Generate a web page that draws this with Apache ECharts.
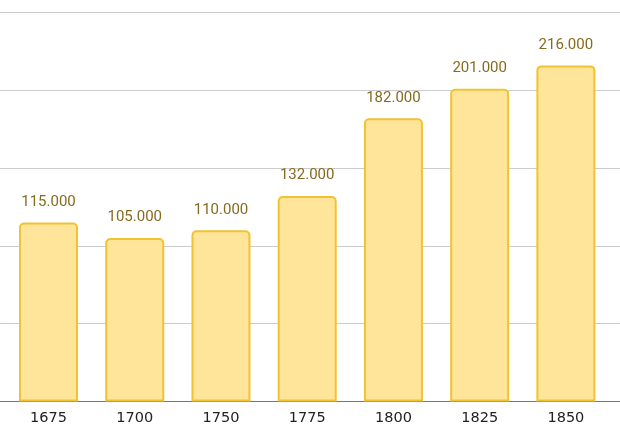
<!DOCTYPE html>
<html><head><meta charset="utf-8">
<script src="https://cdn.jsdelivr.net/npm/echarts@6/dist/echarts.min.js"></script>
<style>html,body{margin:0;padding:0;background:#fff}#c{width:620px;height:432px}</style>
</head><body><div id="c"></div>
<script>
var categories = ['1675','1700','1750','1775','1800','1825','1850'];
var values = [115000,105000,110000,132000,182000,201000,216000];
var yMin = 0, yMax = 250000, yInterval = 50000;

function fmt(v){ return String(v).replace(/\B(?=(\d{3})+(?!\d))/g,'.'); }

var chart = echarts.init(document.getElementById('c'));
chart.setOption({
  animation:false,
  grid:[
    {left:0,right:0,top:12.5,bottom:30.5},
    {left:5.4,right:11,top:12.5,bottom:30.5}
  ],
  xAxis:[
    {gridIndex:0,type:'value',min:0,max:1,axisLabel:{show:false},axisTick:{show:false},splitLine:{show:false},
     axisLine:{show:true,lineStyle:{color:'#777',width:1}}},
    {gridIndex:1,type:'category',data:categories,
     axisLine:{show:false},axisTick:{show:false},
     axisLabel:{color:'#222',fontFamily:'DejaVu Sans',fontSize:14.5,margin:9}}
  ],
  yAxis:[
    {gridIndex:0,type:'value',min:yMin,max:yMax,interval:yInterval,
     axisLine:{show:false},axisTick:{show:false},axisLabel:{show:false},
     splitLine:{lineStyle:{color:'#cccccc',width:1}}},
    {gridIndex:1,type:'value',min:yMin,max:yMax,interval:yInterval,show:false,splitLine:{show:false}}
  ],
  series:[{
    type:'bar',xAxisIndex:1,yAxisIndex:1,data:values,barWidth:59,z:3,
    itemStyle:{color:'#FFE599',borderColor:'#F1C232',borderWidth:2,borderRadius:[4,4,0,0]},
    label:{show:true,position:'top',distance:13,color:'#866B1F',fontFamily:'Roboto',fontSize:15,
      formatter:function(p){return fmt(p.value);}}
  }]
});
</script></body></html>
